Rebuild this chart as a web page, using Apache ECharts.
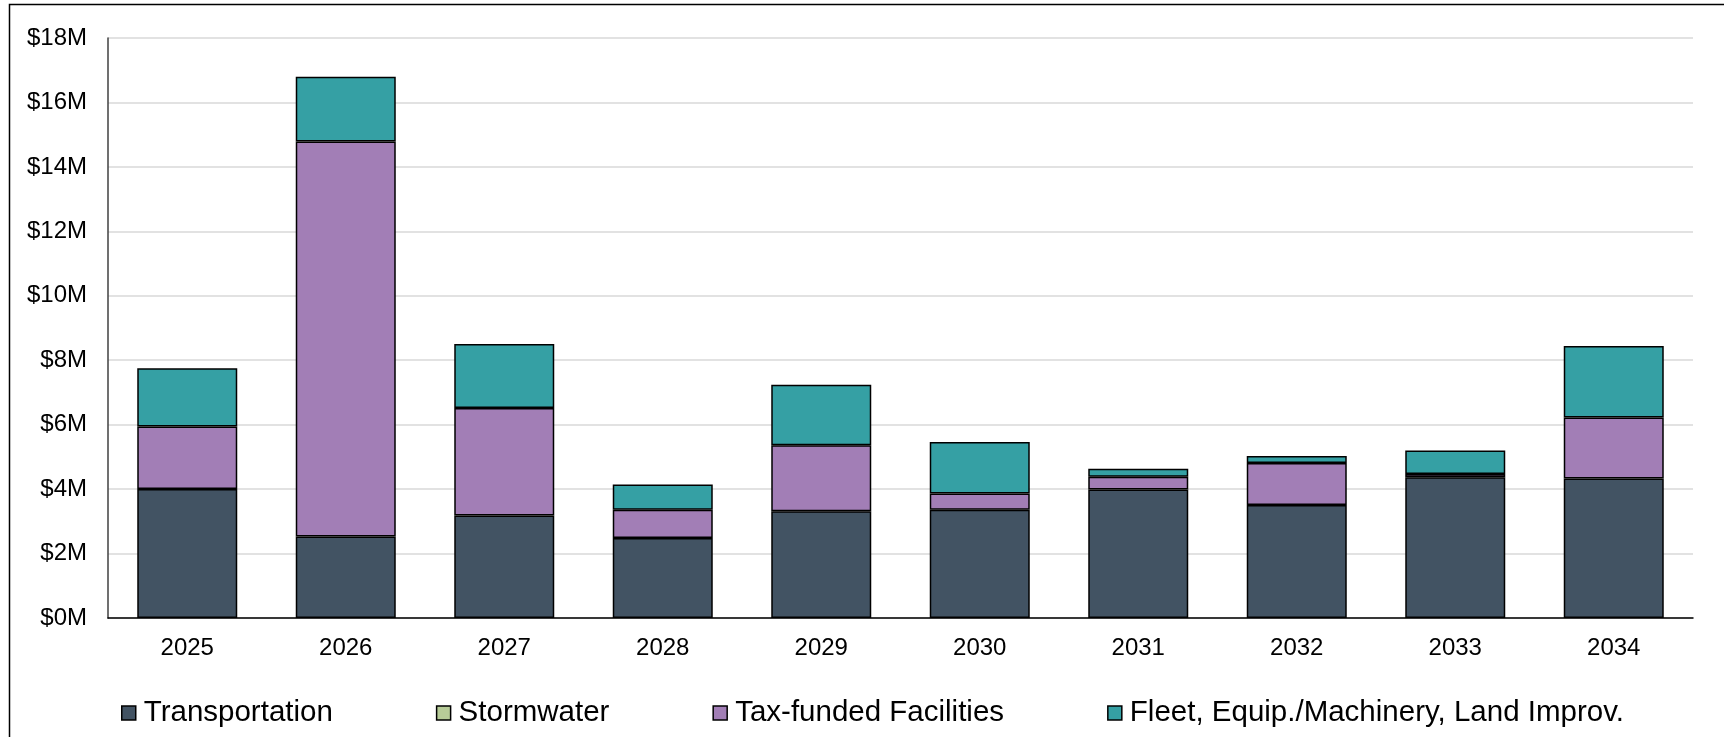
<!DOCTYPE html>
<html>
<head>
<meta charset="utf-8">
<script src="https://cdn.jsdelivr.net/npm/echarts@6/dist/echarts.min.js"></script>
<style>
  html, body { margin: 0; padding: 0; background: #fff; }
  #chart { width: 1724px; height: 737px; }
</style>
</head>
<body>
<div id="chart"></div>
<script>
// values in $M
const years = ['2025', '2026', '2027', '2028', '2029', '2030', '2031', '2032', '2033', '2034']
const transportation = [4.0, 2.53, 3.18, 2.48, 3.31, 3.36, 3.99, 3.51, 4.37, 4.33]
const stormwater = [0, 0, 0, 0, 0, 0, 0, 0, 0, 0]
const taxFacilities = [1.94, 12.26, 3.34, 0.88, 2.05, 0.5, 0.39, 1.3, 0.1, 1.89]
const fleet = [1.81, 2.01, 1.98, 0.78, 1.88, 1.6, 0.25, 0.22, 0.73, 2.22]

const font = '"Liberation Sans", Arial, sans-serif'
const chart = echarts.init(document.getElementById('chart'))

const makeSeries = (name, data, color, border) => ({
  name: name,
  type: 'bar',
  stack: 'total',
  data: data,
  barWidth: 100,
  itemStyle: {
    color: color,
    borderColor: '#000',
    borderWidth: border
  }
})

const option = {
  animation: false,
  textStyle: { fontFamily: font },
  graphic: [
    {
      type: 'rect',
      shape: { x: 9.5, y: 4.5, width: 1800, height: 800 },
      style: { fill: 'none', stroke: '#000', lineWidth: 1.5 },
      silent: true
    }
  ],
  grid: {
    left: 108,
    right: 31,
    top: 38,
    bottom: 119
  },
  legend: {
    left: 116,
    top: 693,
    itemWidth: 14,
    itemHeight: 14,
    itemGap: 103,
    icon: 'rect',
    itemStyle: { borderColor: '#000', borderWidth: 1.5 },
    textStyle: {
      fontFamily: font,
      fontSize: 29.5,
      color: '#000',
      padding: [0, 0, 0, 3]
    }
  },
  xAxis: {
    type: 'category',
    data: years,
    axisLine: { lineStyle: { color: '#000', width: 1.5 } },
    axisTick: { show: false },
    axisLabel: {
      color: '#000',
      fontSize: 24,
      margin: 18,
      fontFamily: font
    }
  },
  yAxis: {
    type: 'value',
    min: 0,
    max: 18,
    interval: 2,
    axisLine: { show: true, lineStyle: { color: '#404040', width: 1.5 } },
    axisTick: { show: false },
    splitLine: { lineStyle: { color: '#d9d9d9', width: 1.5 } },
    axisLabel: {
      color: '#000',
      fontSize: 24,
      margin: 21,
      fontFamily: font,
      formatter: v => '$' + v + 'M'
    }
  },
  series: [
    makeSeries('Transportation', transportation, '#425363', 1.5),
    makeSeries('Stormwater', stormwater, '#B7CC98', 0),
    makeSeries('Tax-funded Facilities', taxFacilities, '#A27EB6', 1.5),
    makeSeries('Fleet, Equip./Machinery, Land Improv.', fleet, '#35A0A4', 1.5)
  ]
}

chart.setOption(option)
</script>
</body>
</html>
